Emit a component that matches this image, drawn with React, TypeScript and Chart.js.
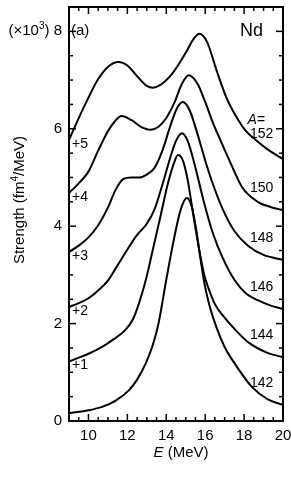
import React, { useEffect, useRef } from 'react';
import { Chart, registerables } from 'chart.js';

Chart.register(...registerables);

// ---- data (strength in 10^3 fm^4/MeV, before vertical offset) ----
const massNumbers = [142, 144, 146, 148, 150, 152];
const offsets = [0, 1, 2, 3, 4, 5];
const offsetLabels = ['', '+1', '+2', '+3', '+4', '+5'];

const energy142 = [9, 10, 10.7, 11.4, 12.1, 12.5, 12.95, 13.3, 13.6, 14.0, 14.4, 14.75, 15.05, 15.3, 15.55, 15.75, 15.95, 16.2, 16.6, 17.0, 17.5, 18.4, 19.2, 20];
const strength142 = [0.16, 0.22, 0.29, 0.42, 0.64, 0.85, 1.19, 1.55, 2.0, 2.9, 3.75, 4.35, 4.58, 4.42, 3.9, 3.35, 2.85, 2.4, 1.9, 1.52, 1.19, 0.70, 0.45, 0.33];

const energy144 = [9, 9.5, 10, 10.7, 11.3, 11.9, 12.3, 12.6, 12.95, 13.3, 13.7, 14.1, 14.4, 14.6, 14.85, 15.1, 15.4, 15.7, 15.95, 16.15, 16.5, 17.0, 17.6, 18.2, 19.2, 20];
const strength144 = [0.22, 0.30, 0.38, 0.52, 0.68, 0.87, 1.10, 1.42, 1.90, 2.50, 3.20, 3.90, 4.30, 4.46, 4.35, 3.95, 3.20, 2.50, 2.00, 1.75, 1.40, 1.12, 0.85, 0.62, 0.40, 0.31];

const energy146 = [9, 9.5, 10, 10.5, 11, 11.5, 12, 12.5, 13, 13.4, 13.8, 14.2, 14.5, 14.8, 15.1, 15.5, 15.9, 16.4, 16.9, 17.5, 18.1, 18.7, 19.3, 20];
const strength146 = [0.34, 0.42, 0.52, 0.68, 0.88, 1.20, 1.52, 1.82, 2.05, 2.35, 2.85, 3.40, 3.75, 3.91, 3.75, 3.20, 2.55, 1.85, 1.35, 0.90, 0.62, 0.48, 0.38, 0.30];

const energy148 = [9, 9.5, 10, 10.5, 11, 11.4, 11.8, 12.2, 12.6, 13, 13.4, 13.8, 14.2, 14.55, 14.85, 15.2, 15.6, 16, 16.4, 16.9, 17.5, 18.2, 19, 20];
const strength148 = [0.47, 0.60, 0.77, 1.02, 1.38, 1.75, 1.97, 2.00, 2.00, 2.06, 2.20, 2.55, 3.05, 3.42, 3.55, 3.38, 2.90, 2.35, 1.86, 1.35, 0.90, 0.60, 0.41, 0.31];

const energy150 = [9, 9.5, 10, 10.5, 11, 11.35, 11.7, 12.2, 12.7, 13.2, 13.6, 14, 14.4, 14.8, 15.15, 15.6, 16, 16.4, 16.8, 17.3, 17.9, 18.7, 19.4, 20];
const strength150 = [0.68, 0.88, 1.12, 1.55, 1.95, 2.15, 2.26, 2.18, 2.04, 1.98, 2.04, 2.22, 2.52, 2.92, 3.10, 2.93, 2.55, 2.12, 1.75, 1.30, 0.80, 0.50, 0.39, 0.33];

const energy152 = [9, 9.5, 10, 10.5, 11, 11.55, 12, 12.5, 13, 13.3, 13.7, 14.2, 14.6, 15, 15.4, 15.7, 16.1, 16.6, 17.1, 17.7, 18.1, 18.6, 19.3, 20];
const strength152 = [0.77, 1.22, 1.64, 2.02, 2.27, 2.37, 2.30, 2.08, 1.88, 1.84, 1.90, 2.08, 2.30, 2.56, 2.84, 2.95, 2.78, 2.18, 1.63, 1.18, 0.95, 0.77, 0.55, 0.38];

const energies = [energy142, energy144, energy146, energy148, energy150, energy152];
const strengths = [strength142, strength144, strength146, strength148, strength150, strength152];

const xTickValues = [10, 12, 14, 16, 18, 20];
const yTickValues = [0, 2, 4, 6, 8];
const X_MIN = 9, X_MAX = 20, Y_MIN = 0, Y_MAX = 8.5;

const FONT = "'Liberation Sans', Arial, Helvetica, sans-serif";

const decor = {
  id: 'decor',
  afterDraw(chart: any) {
    const { ctx, chartArea: a } = chart;
    const xs = chart.scales.x, ys = chart.scales.y;
    ctx.save();
    ctx.strokeStyle = '#000';
    ctx.fillStyle = '#000';
    // frame
    ctx.lineWidth = 2;
    ctx.strokeRect(a.left, a.top, a.right - a.left, a.bottom - a.top);
    // ticks
    ctx.lineWidth = 1.5;
    const line = (x1: number, y1: number, x2: number, y2: number) => {
      ctx.beginPath(); ctx.moveTo(x1, y1); ctx.lineTo(x2, y2); ctx.stroke();
    };
    for (let v = X_MIN + 0.5; v < X_MAX - 1e-6; v += 0.5) {
      const px = xs.getPixelForValue(v);
      const major = xTickValues.some(t => Math.abs(t - v) < 1e-6);
      const len = major ? 7 : 4;
      line(px, a.bottom, px, a.bottom - len);
      line(px, a.top, px, a.top + len);
    }
    for (let v = Y_MIN + 0.5; v < Y_MAX - 1e-6; v += 0.5) {
      const py = ys.getPixelForValue(v);
      const major = yTickValues.some(t => Math.abs(t - v) < 1e-6);
      const len = major ? 7 : 4;
      line(a.left, py, a.left + len, py);
      line(a.right, py, a.right - len, py);
    }

    // (x10^3) multiplier left of the "8" tick label
    const y8 = ys.getPixelForValue(8);
    ctx.textBaseline = 'middle';
    ctx.font = `15px ${FONT}`;
    const w8 = ctx.measureText('8 ').width;
    let rx = a.left - 7 - w8;
    ctx.textAlign = 'right';
    ctx.fillText(')', rx, y8);
    rx -= ctx.measureText(')').width;
    ctx.font = `10px ${FONT}`;
    ctx.fillText('3', rx, y8 - 5);
    rx -= ctx.measureText('3').width;
    ctx.font = `15px ${FONT}`;
    ctx.fillText('(×10', rx, y8);

    // (a) and Nd
    ctx.textAlign = 'left';
    ctx.font = `15px ${FONT}`;
    ctx.fillText('(a)', a.left + 2, y8);
    ctx.textAlign = 'right';
    ctx.font = `18px ${FONT}`;
    ctx.fillText('Nd', a.right - 20, y8);

    // offset labels on left, mass labels on right
    ctx.font = `14px ${FONT}`;
    massNumbers.forEach((m, i) => {
      const s = strengths[i];
      const off = offsets[i];
      if (offsetLabels[i]) {
        ctx.textAlign = 'left';
        ctx.fillText(offsetLabels[i], xs.getPixelForValue(X_MIN) + 3, ys.getPixelForValue(off + s[0]) + 4);
      }
      ctx.textAlign = 'center';
      const ly = ys.getPixelForValue(off + s[s.length - 1] + 0.45) - (i === massNumbers.length - 1 ? 3 : 0);
      ctx.fillText(String(m), xs.getPixelForValue(18.9), ly);
      if (i === massNumbers.length - 1) {
        ctx.textAlign = 'left';
        ctx.font = `italic 14px ${FONT}`;
        ctx.fillText('A', xs.getPixelForValue(18.9) - 14, ly - 14);
        const w = ctx.measureText('A').width;
        ctx.font = `14px ${FONT}`;
        ctx.fillText('=', xs.getPixelForValue(18.9) - 14 + w, ly - 14);
      }
    });

    // x title: E (MeV)
    ctx.textBaseline = 'alphabetic';
    ctx.textAlign = 'left';
    ctx.font = `italic 15px ${FONT}`;
    const wE = ctx.measureText('E').width;
    ctx.font = `15px ${FONT}`;
    const rest = ' (MeV)';
    const wR = ctx.measureText(rest).width;
    const cx = (a.left + a.right) / 2 + 5;
    const sx = cx - (wE + wR) / 2;
    ctx.font = `italic 15px ${FONT}`;
    ctx.fillText('E', sx, 457);
    ctx.font = `15px ${FONT}`;
    ctx.fillText(rest, sx + wE, 457);

    // y title: Strength (fm^4/MeV)
    ctx.save();
    ctx.translate(24, (a.top + a.bottom) / 2 - 14);
    ctx.rotate(-Math.PI / 2);
    const p1 = 'Strength (fm', p2 = '4', p3 = '/MeV)';
    ctx.font = `15px ${FONT}`;
    const w1 = ctx.measureText(p1).width, w3 = ctx.measureText(p3).width;
    ctx.font = `10px ${FONT}`;
    const w2 = ctx.measureText(p2).width;
    let tx = -(w1 + w2 + w3) / 2;
    ctx.font = `15px ${FONT}`;
    ctx.fillText(p1, tx, 0); tx += w1;
    ctx.font = `10px ${FONT}`;
    ctx.fillText(p2, tx, -6); tx += w2;
    ctx.font = `15px ${FONT}`;
    ctx.fillText(p3, tx, 0);
    ctx.restore();

    ctx.restore();
  },
};

export default function App() {
  const ref = useRef<HTMLCanvasElement>(null);
  useEffect(() => {
    const datasets = massNumbers.map((m, i) => ({
      label: `A=${m}`,
      data: energies[i].map((e, k) => ({ x: e, y: strengths[i][k] + offsets[i] })),
      borderColor: '#000',
      borderWidth: 2,
      pointRadius: 0,
      fill: false,
      cubicInterpolationMode: 'monotone' as const,
    }));
    const chart = new Chart(ref.current as HTMLCanvasElement, {
      type: 'line',
      data: { datasets },
      options: {
        responsive: false,
        animation: false,
        devicePixelRatio: 1,
        layout: { padding: { top: 7, right: 8, left: 0, bottom: 0 } },
        plugins: { legend: { display: false }, tooltip: { enabled: false } },
        scales: {
          x: {
            type: 'linear',
            min: X_MIN,
            max: X_MAX,
            grid: { display: false, drawTicks: false },
            border: { display: false },
            ticks: {
              stepSize: 2,
              includeBounds: false,
              autoSkip: false,
              maxRotation: 0,
              padding: 6,
              color: '#000',
              font: { family: FONT, size: 15 },
              callback: (v: any) => (xTickValues.includes(Number(v)) ? String(v) : ''),
            },
            afterFit: (s: any) => { s.height = 59; s.paddingLeft = 0; s.paddingRight = 0; },
          },
          y: {
            type: 'linear',
            min: Y_MIN,
            max: Y_MAX,
            grid: { display: false, drawTicks: false },
            border: { display: false },
            ticks: {
              stepSize: 2,
              includeBounds: false,
              autoSkip: false,
              padding: 7,
              color: '#000',
              font: { family: FONT, size: 15 },
              callback: (v: any) => (yTickValues.includes(Number(v)) ? String(v) : ''),
            },
            afterFit: (s: any) => { s.width = 69; s.paddingTop = 0; s.paddingBottom = 0; },
          },
        },
      },
      plugins: [decor],
    } as any);
    return () => chart.destroy();
  }, []);
  return (
    <div style={{ position: 'absolute', left: 0, top: 0, width: 291, height: 480, background: '#fff' }}>
      <canvas ref={ref} width={291} height={480} style={{ display: 'block' }} />
    </div>
  );
}
